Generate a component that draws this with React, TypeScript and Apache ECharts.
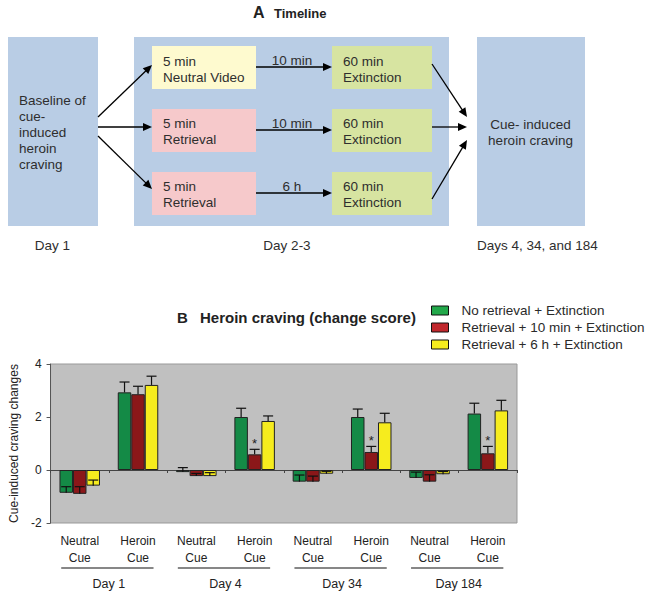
import React, { useEffect, useRef } from 'react';
import * as echarts from 'echarts';

const FONT = '"Liberation Sans", Arial, sans-serif';

// ---- Panel B data ----
const categories = [
  'Neutral\nCue', 'Heroin\nCue',
  'Neutral\nCue', 'Heroin\nCue',
  'Neutral\nCue', 'Heroin\nCue',
  'Neutral\nCue', 'Heroin\nCue',
];
const days = ['Day 1', 'Day 4', 'Day 34', 'Day 184'];
const seriesNames = [
  'No retrieval + Extinction',
  'Retrieval + 10 min + Extinction',
  'Retrieval + 6 h + Extinction',
];
const noRetrieval = [-0.86, 2.93, -0.08, 2.0, -0.44, 2.0, -0.3, 2.13];
const noRetrievalErr = [0.23, 0.39, 0.17, 0.33, 0.25, 0.3, 0.22, 0.39];
const retrieval10 = [-0.9, 2.86, -0.23, 0.59, -0.44, 0.68, -0.44, 0.63];
const retrieval10Err = [0.27, 0.3, 0.1, 0.19, 0.21, 0.21, 0.26, 0.26];
const retrieval6h = [-0.59, 3.21, -0.23, 1.85, -0.14, 1.8, -0.16, 2.25];
const retrieval6hErr = [0.21, 0.33, 0.13, 0.19, 0.09, 0.34, 0.1, 0.38];
const significant10 = [false, false, false, true, false, true, false, true];
const yMin = -2;
const yMax = 4;
const yInterval = 2;

const barColors = ['#148A46', '#8B1719', '#F6EC1E'];
const legendColors = ['#22A84A', '#C0272D', '#F6EC1E'];

const BAR_W = 13.5;
const CAP = 5;

function errorSeries(idx: number, values: number[], errs: number[], sig?: boolean[]) {
  return {
    type: 'custom',
    xAxisIndex: 0,
    yAxisIndex: 0,
    z: 5,
    silent: true,
    encode: { x: 0, y: 1 },
    data: values.map((v, i) => [i, v, errs[i], sig && sig[i] ? 1 : 0]),
    renderItem: (params: any, api: any) => {
      const ci = api.value(0);
      const v = api.value(1);
      const e = api.value(2);
      const base = api.coord([ci, v]);
      const top = api.coord([ci, v + e]);
      const x = base[0] + (idx - 1) * BAR_W;
      const children: any[] = [
        { type: 'line', shape: { x1: x, y1: base[1], x2: x, y2: top[1] }, style: { stroke: '#111', lineWidth: 1.2 } },
        { type: 'line', shape: { x1: x - CAP, y1: top[1], x2: x + CAP, y2: top[1] }, style: { stroke: '#111', lineWidth: 1.2 } },
      ];
      if (api.value(3)) {
        children.push({
          type: 'text',
          x,
          y: top[1] - 6,
          style: {
            text: '*', fill: '#222', fontSize: 13, fontFamily: FONT,
            align: 'center', textAlign: 'center', verticalAlign: 'middle', textVerticalAlign: 'middle',
          },
        });
      }
      return { type: 'group', children };
    },
  };
}

// ---- Panel A helpers ----
function rect(x: number, y: number, w: number, h: number, fill: string) {
  return { type: 'rect', silent: true, shape: { x, y, width: w, height: h }, style: { fill } };
}
function txt(x: number, y: number, text: string, opts: any = {}) {
  const align = opts.align || 'left';
  return {
    type: 'text', silent: true, x, y,
    style: {
      text, fill: '#2e2e2e', fontSize: 13.5, fontFamily: FONT, lineHeight: 16,
      align, textAlign: align, verticalAlign: 'middle', textVerticalAlign: 'middle',
      ...opts,
    },
  };
}
function arrow(x1: number, y1: number, x2: number, y2: number) {
  const L = 9, W = 4;
  const dx = x2 - x1, dy = y2 - y1;
  const len = Math.hypot(dx, dy);
  const ux = dx / len, uy = dy / len;
  const bx = x2 - ux * L, by = y2 - uy * L;
  return [
    { type: 'line', silent: true, shape: { x1, y1, x2: bx + ux * 1, y2: by + uy * 1 }, style: { stroke: '#000', lineWidth: 1.3 } },
    { type: 'polygon', silent: true, shape: { points: [[x2, y2], [bx - uy * W, by + ux * W], [bx + uy * W, by - ux * W]] }, style: { fill: '#000' } },
  ];
}

function panelA(): any[] {
  const blue = '#B9CDE5';
  const els: any[] = [
    rect(8, 37, 90, 189, blue),
    rect(134, 37, 315, 189, blue),
    rect(477, 37, 108, 189, blue),
    rect(152, 46, 104, 43, '#FEFACF'),
    rect(152, 109, 104, 43, '#F6C9CB'),
    rect(152, 172, 104, 43, '#F6C9CB'),
    rect(332, 46, 100, 43, '#D7E4A1'),
    rect(332, 109, 100, 43, '#D7E4A1'),
    rect(332, 172, 100, 43, '#D7E4A1'),
    txt(253, 12.5, 'A', { fontSize: 16, fontWeight: 'bold', fill: '#222' }),
    txt(274, 13.6, 'Timeline', { fontSize: 13, fontWeight: 'bold', fill: '#222' }),
    txt(19, 132, 'Baseline of\ncue-\ninduced\nheroin\ncraving'),
    txt(163, 69, '5 min\nNeutral Video'),
    txt(163, 131.5, '5 min\nRetrieval'),
    txt(163, 194.5, '5 min\nRetrieval'),
    txt(343, 69, '60 min\nExtinction'),
    txt(343, 131.5, '60 min\nExtinction'),
    txt(343, 194.5, '60 min\nExtinction'),
    txt(292, 60, '10 min', { align: 'center' }),
    txt(292, 123, '10 min', { align: 'center' }),
    txt(292, 186, '6 h', { align: 'center' }),
    txt(530.5, 132, 'Cue- induced\nheroin craving', { align: 'center' }),
    txt(52.5, 245, 'Day 1', { align: 'center' }),
    txt(287, 245, 'Day 2-3', { align: 'center' }),
    txt(477, 245, 'Days 4, 34, and 184'),
    txt(177, 317, 'B', { fontSize: 15, fontWeight: 'bold', fill: '#222' }),
    txt(200, 317, 'Heroin craving (change score)', { fontSize: 15, fontWeight: 'bold', fill: '#222' }),
  ];
  els.push(...arrow(98, 117, 152, 65));
  els.push(...arrow(98, 127, 152, 127));
  els.push(...arrow(98, 136, 152, 189));
  els.push(...arrow(256, 67, 332, 67));
  els.push(...arrow(256, 130, 332, 130));
  els.push(...arrow(256, 193, 332, 193));
  els.push(...arrow(432, 64, 467, 117));
  els.push(...arrow(432, 127, 467, 127));
  els.push(...arrow(432, 199, 467, 140));
  return els;
}

const GRID = { left: 45, top: 364, width: 472, height: 159 };

export default function App() {
  const ref = useRef<HTMLDivElement>(null);
  useEffect(() => {
    if (!ref.current) return;
    const chart = echarts.init(ref.current, null, { renderer: 'svg' });
    const values = [noRetrieval, retrieval10, retrieval6h];
    const option: any = {
      animation: false,
      backgroundColor: '#ffffff',
      textStyle: { fontFamily: FONT },
      grid: {
        ...GRID,
        show: true,
        backgroundColor: '#C0C0C0',
        borderColor: '#999999',
        borderWidth: 1,
        containLabel: false,
      },
      legend: {
        orient: 'vertical',
        left: 426,
        top: 298,
        itemWidth: 17,
        itemHeight: 9,
        itemGap: 2,
        icon: 'rect',
        selectedMode: false,
        textStyle: { fontSize: 13.5, fontFamily: FONT, color: '#2a2a2a', lineHeight: 15, padding: [0, 0, 0, 8] },
        data: seriesNames.map((n, i) => ({
          name: n,
          itemStyle: { color: legendColors[i], borderColor: '#111', borderWidth: 1 },
        })),
      },
      xAxis: [
        {
          type: 'category',
          data: categories,
          axisLine: { show: true, onZero: true, lineStyle: { color: '#444', width: 1 } },
          axisTick: { show: true, length: 3, lineStyle: { color: '#444' } },
          axisLabel: { show: false },
          splitLine: { show: false },
        },
        {
          type: 'category',
          data: categories,
          position: 'bottom',
          axisLine: { show: false, onZero: false },
          axisTick: { show: false },
          axisLabel: { show: true, fontSize: 12, fontFamily: FONT, color: '#222', lineHeight: 17, margin: 9, interval: 0 },
        },
        {
          type: 'category',
          data: days,
          position: 'bottom',
          offset: 46,
          axisLine: { show: false, onZero: false },
          axisTick: { show: false },
          axisLabel: { show: true, fontSize: 12.5, fontFamily: FONT, color: '#222', margin: 8, interval: 0 },
        },
      ],
      yAxis: {
        type: 'value',
        min: yMin,
        max: yMax,
        interval: yInterval,
        name: 'Cue-induced craving changes',
        nameLocation: 'middle',
        nameGap: 30,
        nameRotate: 90,
        nameTextStyle: { fontSize: 12, fontFamily: FONT, color: '#222' },
        axisLine: { show: true, lineStyle: { color: '#555' } },
        axisTick: { show: true, length: 4, lineStyle: { color: '#555' } },
        axisLabel: { fontSize: 12, fontFamily: FONT, color: '#222', margin: 9 },
        splitLine: { show: false },
      },
      series: [
        ...seriesNames.map((n, i) => ({
          type: 'bar',
          name: n,
          xAxisIndex: 0,
          data: values[i],
          barWidth: BAR_W,
          barGap: '0%',
          z: 2,
          itemStyle: { color: barColors[i], borderColor: '#222', borderWidth: 1 },
        })),
        errorSeries(0, noRetrieval, noRetrievalErr),
        errorSeries(1, retrieval10, retrieval10Err, significant10),
        errorSeries(2, retrieval6h, retrieval6hErr),
      ],
    };
    chart.setOption(option);

    const underlines: any[] = days.map((d, k) => {
      const a = chart.convertToPixel({ xAxisIndex: 0 }, 2 * k) as number;
      const b = chart.convertToPixel({ xAxisIndex: 0 }, 2 * k + 1) as number;
      const y = GRID.top + GRID.height + 45;
      return {
        type: 'line', silent: true,
        shape: { x1: a - 18.5, y1: y, x2: b + 15.5, y2: y },
        style: { stroke: '#111', lineWidth: 1.2 },
      };
    });
    chart.setOption({ graphic: { elements: [...panelA(), ...underlines] } });

    return () => chart.dispose();
  }, []);
  return <div ref={ref} style={{ position: 'absolute', left: 0, top: 0, width: 649, height: 597 }} />;
}
